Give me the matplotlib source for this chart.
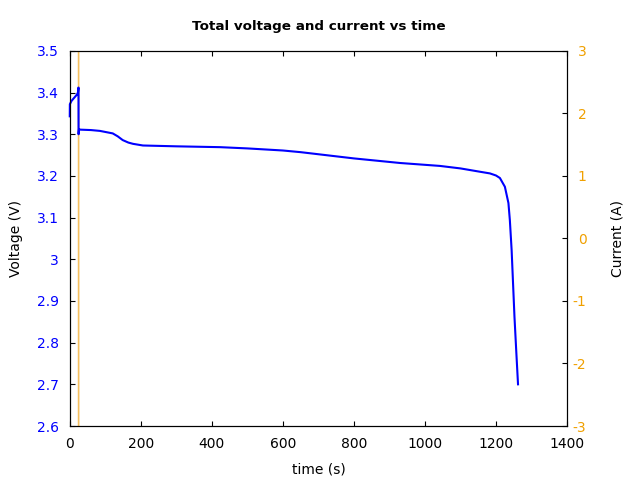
import matplotlib
matplotlib.use("Agg")
import matplotlib.pyplot as plt

plt.rcParams["axes.unicode_minus"] = False

time_v = [0, 0.3, 5, 10, 15, 20, 23, 24.6, 24.8, 26, 30, 60, 85, 121, 135, 149, 165, 178, 206,
          300, 423, 500, 600, 650, 700, 800, 930, 1042, 1100, 1155, 1183, 1200, 1211, 1225,
          1235, 1239, 1244, 1252, 1257, 1262]
voltage = [3.343, 3.372, 3.38, 3.385, 3.39, 3.395, 3.40, 3.412, 3.30, 3.312, 3.311, 3.31, 3.308,
           3.302, 3.295, 3.286, 3.28, 3.277, 3.273, 3.271, 3.269, 3.266, 3.261, 3.257, 3.252,
           3.242, 3.231, 3.224, 3.218, 3.210, 3.206, 3.201, 3.195, 3.174, 3.135, 3.094, 3.022,
           2.862, 2.78, 2.70]

time_i = [24.8, 25.0]
current = [10.0, -10.0]

fig = plt.figure(figsize=(6.4, 4.8), dpi=100)
ax = fig.add_axes([0.109, 0.1125, 0.777, 0.7815])
ax2 = ax.twinx()

blue = "#0000ff"
orange = "#f0a000"

ax2.plot(time_i, current, color="#f5c060", lw=1.2)
ax.plot(time_v, voltage, color=blue, lw=1.5, clip_on=False)
ax.set_zorder(ax2.get_zorder() + 1)
ax.patch.set_visible(False)

ax.set_xlim(0, 1400)
ax.set_ylim(2.6, 3.5)
ax2.set_ylim(-3, 3)
ax.set_xticks(range(0, 1401, 200))
ax.set_yticks([2.6, 2.7, 2.8, 2.9, 3.0, 3.1, 3.2, 3.3, 3.4, 3.5])
ax.set_yticklabels(["2.6", "2.7", "2.8", "2.9", "3", "3.1", "3.2", "3.3", "3.4", "3.5"])
ax2.set_yticks(range(-3, 4))

tl = 3.4
ax.tick_params(axis="x", direction="in", top=True, length=tl, labelsize=10, pad=8)
ax.tick_params(axis="y", direction="in", length=tl, labelsize=10, colors=blue, pad=8)
ax.tick_params(axis="y", color="black")
ax2.tick_params(axis="y", direction="in", length=tl, labelsize=10, labelcolor=orange, color="black", pad=14)
for lbl in ax2.get_yticklabels():
    lbl.set_horizontalalignment("right")

ax.set_xlabel("time (s)", fontsize=10, labelpad=8)
ax.set_ylabel("Voltage (V)", fontsize=10, labelpad=10)
ax2.set_ylabel("Current (A)", fontsize=10, labelpad=17)
ax.set_title("Total voltage and current vs time", fontsize=9.7, fontweight="bold", pad=15)

fig.savefig("out.png", dpi=100)
